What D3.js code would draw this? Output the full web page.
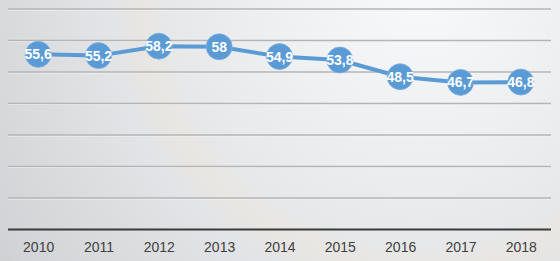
<!DOCTYPE html>
<html><head><meta charset="utf-8">
<script src="https://cdn.jsdelivr.net/npm/d3@7"></script>
<style>html,body{margin:0;padding:0;overflow:hidden;}svg{display:block;}</style>
</head><body>
<svg id="c" width="560" height="261"></svg>
<script>
const years = ["2010","2011","2012","2013","2014","2015","2016","2017","2018"];
const values = [55.6,55.2,58.2,58,54.9,53.8,48.5,46.7,46.8];
const labels = ["55,6","55,2","58,2","58","54,9","53,8","48,5","46,7","46,8"];
const gridTicks = [10,20,30,40,50,60,70];

const W=560,H=261;
const m={left:8,right:9,top:9,bottom:31.5};
const svg=d3.select("#c");
const defs=svg.append("defs");
const rg=defs.append("radialGradient").attr("id","bg").attr("gradientUnits","userSpaceOnUse")
  .attr("cx",420).attr("cy",-10).attr("r",560);
[[0,"#f8f9fa"],[0.25,"#eff0f1"],[0.45,"#e6e8ea"],[0.5,"#e9e6e2"],[0.56,"#e2e4e7"],[0.7,"#dadcde"],[0.85,"#d2d4d7"],[1,"#c7c8c9"]]
  .forEach(([o,c])=>rg.append("stop").attr("offset",o).attr("stop-color",c));
svg.append("rect").attr("width",W).attr("height",H).attr("fill","url(#bg)");

const x=d3.scalePoint().domain(years).range([m.left,W-m.right]).padding(0.5);
const y=d3.scaleLinear().domain([0,70]).range([H-m.bottom,m.top]);

const g=svg.append("g");
g.selectAll("line.grid").data(gridTicks).join("line").attr("class","grid")
  .attr("x1",m.left).attr("x2",W-m.right).attr("y1",d=>y(d)+1).attr("y2",d=>y(d)+1)
  .attr("stroke","#f4f4f4").attr("stroke-width",1);
g.selectAll("line.grid2").data(gridTicks).join("line").attr("class","grid2")
  .attr("x1",m.left).attr("x2",W-m.right).attr("y1",d=>y(d)).attr("y2",d=>y(d))
  .attr("stroke","#b4b4b4").attr("stroke-width",1.4);

// x axis
const xa=svg.append("g").attr("transform",`translate(0,${y(0)})`)
  .call(d3.axisBottom(x).tickSize(0).tickPadding(13));
xa.select(".domain").attr("d",`M${m.left},0H${W-m.right}`).attr("stroke","#3a3a3a").attr("stroke-width",2.2);
xa.selectAll("text").attr("font-family","Liberation Sans, Arial, sans-serif").attr("font-size",14).attr("fill","#404040");

const line=d3.line().x((d,i)=>x(years[i])).y(d=>y(d));
svg.append("path").datum(values).attr("d",line).attr("fill","none")
  .attr("stroke","#5b9bd5").attr("stroke-width",4).attr("stroke-linejoin","round");

const pts=svg.append("g").selectAll("g").data(values).join("g")
  .attr("transform",(d,i)=>`translate(${x(years[i])},${y(d)})`);
pts.append("circle").attr("r",13).attr("fill","#5b9bd5").attr("stroke","#7fb0e0").attr("stroke-width",0.8);
pts.append("text").text((d,i)=>labels[i]).attr("text-anchor","middle").attr("dy","0.36em")
  .attr("font-family","Liberation Sans, Arial, sans-serif").attr("font-weight","bold").attr("font-size",14)
  .attr("fill","#ffffff");
</script>
</body></html>
